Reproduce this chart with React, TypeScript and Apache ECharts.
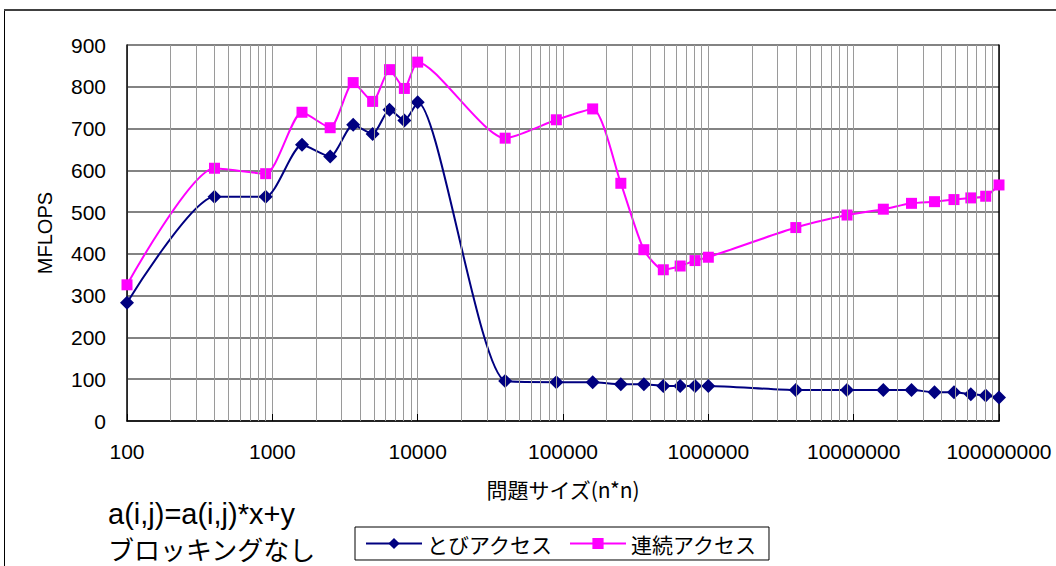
import React, { useEffect, useRef } from "react";
import * as echarts from "echarts";

// Problem size n*n
const problemSizes = [
  100, 400, 900, 1600, 2500, 3600, 4900, 6400, 8100, 10000,
  40000, 90000, 160000, 250000, 360000, 490000, 640000, 810000, 1000000,
  4000000, 9000000, 16000000, 25000000, 36000000, 49000000, 64000000, 81000000, 100000000,
];
// とびアクセス (MFLOPS)
const stridedValues = [
  283, 537, 537, 661, 633, 709, 687, 745, 719, 763,
  96, 93, 93, 88, 88, 84, 84, 84, 84,
  74, 74, 74, 74, 69, 69, 64, 61, 56,
];
// 連続アクセス (MFLOPS)
const contiguousValues = [
  326, 605, 592, 739, 702, 810, 765, 841, 796, 859,
  677, 721, 747, 569, 410, 362, 371, 384, 392,
  463, 493, 507, 521, 525, 530, 534, 538, 565,
];
const seriesNames = ["とびアクセス", "連続アクセス"];
const decades = [100, 1000, 10000, 100000, 1000000, 10000000];
const minorSteps = [2, 3, 4, 5, 6, 7, 8, 9];

export default function App() {
  const ref = useRef<HTMLDivElement>(null);
  useEffect(() => {
    document.body.style.margin = "0";
    const chart = echarts.init(ref.current!, null, { renderer: "svg" });
    const minorLines: any[] = [];
    decades.forEach((d) => minorSteps.forEach((m) => minorLines.push({ xAxis: d * m })));
    const latin = "'Liberation Sans', Arial, sans-serif";
    const jp = "'Noto Sans CJK JP', sans-serif";
    chart.setOption({
      animation: false,
      backgroundColor: "#ffffff",
      grid: { left: 127, right: 57, top: 45, bottom: 145, containLabel: false },
      legend: {
        data: seriesNames,
        left: 355,
        top: 527,
        orient: "horizontal",
        itemWidth: 56,
        itemHeight: 14,
        itemGap: 16,
        padding: [6, 12, 6, 10],
        borderColor: "#000",
        borderWidth: 1,
        backgroundColor: "#fff",
        textStyle: { fontFamily: jp, fontSize: 21, color: "#000" },
      },
      xAxis: {
        type: "log",
        logBase: 10,
        min: 100,
        max: 100000000,
        interval: 1,
        name: "問題サイズ(n*n)",
        nameLocation: "middle",
        nameGap: 57,
        nameTextStyle: { fontFamily: jp, fontSize: 21, color: "#000" },
        axisLine: { show: true, lineStyle: { color: "#000", width: 1.5 } },
        axisTick: { show: true, inside: true, length: 7, lineStyle: { color: "#000" } },
        axisLabel: {
          margin: 20,
          fontFamily: latin,
          fontSize: 21,
          color: "#000",
          formatter: (v: number) => String(Math.round(v)),
        },
        splitLine: { show: true, lineStyle: { color: "#9a9a9a", width: 1 } },
      },
      yAxis: [
        {
          type: "value",
          min: 0,
          max: 900,
          interval: 100,
          name: "MFLOPS",
          nameLocation: "middle",
          nameGap: 72,
          nameTextStyle: { fontFamily: latin, fontSize: 20, color: "#000" },
          axisLine: { show: true, lineStyle: { color: "#000", width: 1.5 } },
          axisTick: { show: false },
          axisLabel: { margin: 21, fontFamily: latin, fontSize: 21, color: "#000" },
          splitLine: { show: true, lineStyle: { color: "#5a5a5a", width: 1.5 } },
        },
        {
          type: "value",
          min: 0,
          max: 900,
          interval: 100,
          position: "right",
          axisLine: { show: true, lineStyle: { color: "#000", width: 1.5 } },
          axisTick: { show: false },
          axisLabel: { show: false },
          splitLine: { show: false },
        },
      ],
      series: [
        {
          name: "grid-minor",
          type: "line",
          data: [],
          silent: true,
          z: 1,
          markLine: {
            silent: true,
            symbol: ["none", "none"],
            label: { show: false },
            lineStyle: { color: "#9a9a9a", type: "solid", width: 1 },
            emphasis: { disabled: true },
            data: minorLines,
          },
        },
        {
          name: seriesNames[0],
          type: "line",
          z: 3,
          smooth: 0.22,
          data: problemSizes.map((x, i) => [x, stridedValues[i]]),
          symbol: "diamond",
          symbolSize: 14,
          lineStyle: { color: "#000080", width: 2 },
          itemStyle: { color: "#000080" },
        },
        {
          name: seriesNames[1],
          type: "line",
          z: 4,
          smooth: 0.22,
          data: problemSizes.map((x, i) => [x, contiguousValues[i]]),
          symbol: "rect",
          symbolSize: 11,
          lineStyle: { color: "#ff00ff", width: 2 },
          itemStyle: { color: "#ff00ff" },
        },
      ],
      graphic: [
        {
          type: "line",
          shape: { x1: 4.5, y1: 10, x2: 4.5, y2: 566 },
          style: { stroke: "#000", lineWidth: 1 },
        },
        {
          type: "line",
          shape: { x1: 4, y1: 10, x2: 1056, y2: 10 },
          style: { stroke: "#404040", lineWidth: 2 },
        },
        {
          type: "text",
          left: 108,
          top: 499,
          style: {
            text: "a(i,j)=a(i,j)*x+y",
            fontFamily: latin,
            fontSize: 29,
            lineHeight: 30,
            fill: "#000",
          },
        },
        {
          type: "text",
          left: 108,
          top: 534,
          style: {
            text: "ブロッキングなし",
            fontFamily: jp,
            fontSize: 26,
            lineHeight: 28,
            fill: "#000",
          },
        },
      ],
    });
    return () => chart.dispose();
  }, []);
  return <div ref={ref} style={{ width: 1056, height: 566 }} />;
}
